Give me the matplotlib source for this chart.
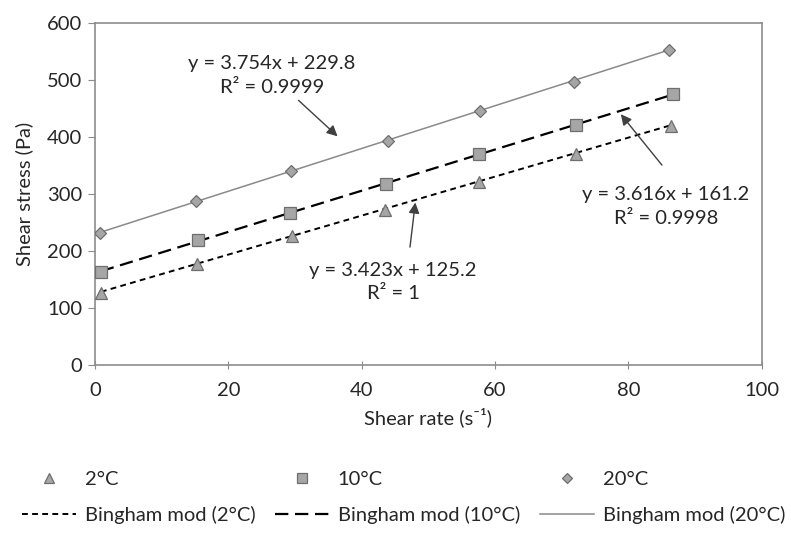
import numpy as np
import matplotlib.pyplot as plt

plt.rcParams['font.family'] = ['Lato', 'DejaVu Sans']

# shear rate (s-1) and shear stress (Pa)
rate_2 = [0.9, 15.3, 29.6, 43.5, 57.6, 72.1, 86.4]
stress_2 = [127, 177, 227, 272, 322, 371, 420]
rate_10 = [0.9, 15.4, 29.2, 43.6, 57.6, 72.1, 86.7]
stress_10 = [163, 220, 266, 318, 370, 421, 476]
rate_20 = [0.8, 15.2, 29.4, 43.9, 57.7, 71.9, 86.1]
stress_20 = [231, 287, 341, 394, 446, 497, 553]

# Bingham fits as printed on the chart
slopes = [3.423, 3.616, 3.754]
intercepts = [125.2, 161.2, 229.8]
r2_labels = ['1', '0.9998', '0.9999']

marker_face = '#a6a6a6'
marker_edge = '#6e6e6e'
axis_col = '#8c8c8c'
text_col = '#262626'
fs = 14.5

fig = plt.figure(figsize=(7.91, 5.39), dpi=100)
ax = fig.add_axes([0.120, 0.323, 0.843, 0.634])

series = [
    (rate_2, stress_2, '^', 9, (0, (3, 2.2)), 'black', 1.4),
    (rate_10, stress_10, 's', 9, (0, (6, 3)), 'black', 1.6),
    (rate_20, stress_20, 'D', 6.5, '-', '#8a8a8a', 1.1),
]

pts = []
fits = []
for i, (x, y, mk, ms, ls, lc, lw) in enumerate(series):
    x = np.array(x)
    xs = np.array([x.min(), x.max()])
    ln, = ax.plot(xs, slopes[i] * xs + intercepts[i], linestyle=ls, color=lc, lw=lw, zorder=2)
    p, = ax.plot(x, y, linestyle='none', marker=mk, ms=ms, mfc=marker_face,
                 mec=marker_edge, mew=0.9, zorder=3)
    pts.append(p)
    fits.append(ln)

ax.set_xlim(0, 100)
ax.set_ylim(0, 600)
ax.set_xticks(np.arange(0, 101, 20))
ax.set_yticks(np.arange(0, 601, 100))
for s in ax.spines.values():
    s.set_color(axis_col)
    s.set_linewidth(1.2)
ax.tick_params(axis='x', direction='inout', length=6, color=axis_col, labelsize=fs,
               labelcolor=text_col, pad=9)
ax.tick_params(axis='y', direction='out', length=5, color=axis_col, labelsize=fs,
               labelcolor=text_col, pad=4)
ax.set_xlabel('Shear rate (s⁻¹)', fontsize=fs, color=text_col, labelpad=6)
ax.set_ylabel('Shear stress (Pa)', fontsize=fs, color=text_col, labelpad=10)

arrow = dict(arrowstyle='-|>', color='#404040', lw=1.0, mutation_scale=16)
labels = ['y = {}x + {}\nR² = {}'.format(slopes[i], intercepts[i], r2_labels[i]) for i in range(3)]
ax.annotate(labels[2], xy=(36.7, 398), xytext=(26.5, 508), ha='center', va='center',
            fontsize=fs, color=text_col, arrowprops=arrow, linespacing=1.45)
ax.annotate('', xy=(78.6, 444), xytext=(85.3, 347), arrowprops=arrow)
ax.text(85.6, 278, labels[1], ha='center', va='center', fontsize=fs, color=text_col,
        linespacing=1.45)
ax.annotate('', xy=(48.1, 290), xytext=(47.2, 202), arrowprops=arrow)
ax.text(44.7, 145, labels[0], ha='center', va='center', fontsize=fs, color=text_col,
        linespacing=1.45)

handles = [pts[0], fits[0], pts[1], fits[1], pts[2], fits[2]]
names = ['2°C', 'Bingham mod (2°C)', '10°C', 'Bingham mod (10°C)', '20°C', 'Bingham mod (20°C)']
fig.legend(handles, names, ncol=3, loc='upper left', bbox_to_anchor=(0.005, 0.16),
           frameon=False, fontsize=fs, handlelength=2.7, handletextpad=0.4,
           columnspacing=1.0, labelspacing=0.9, markerscale=0.75, labelcolor=text_col)

fig.savefig('out.png', dpi=100)
